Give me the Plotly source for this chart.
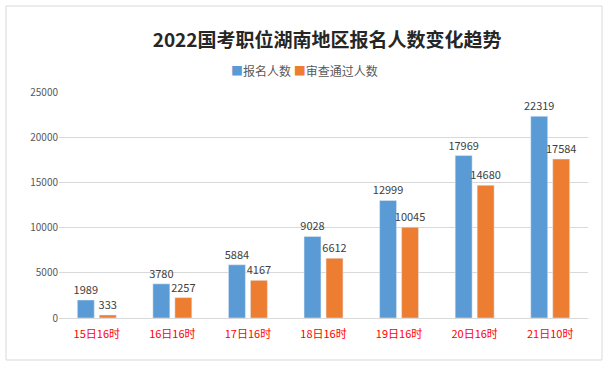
import plotly.graph_objects as go

categories = ["15日16时", "16日16时", "17日16时", "18日16时", "19日16时", "20日16时", "21日10时"]
applicants = [1989, 3780, 5884, 9028, 12999, 17969, 22319]
approved = [333, 2257, 4167, 6612, 10045, 14680, 17584]
y_ticks = [0, 5000, 10000, 15000, 20000, 25000]
series_names = ["报名人数", "审查通过人数"]
series_colors = ["#5B9BD5", "#ED7D31"]

font_cjk = "Noto Sans CJK SC, Microsoft YaHei, sans-serif"

fig = go.Figure()
for name, vals, col in zip(series_names, [applicants, approved], series_colors):
    fig.add_trace(go.Bar(name=name, x=categories, y=vals, marker_color=col,
                         text=vals, textposition="outside", cliponaxis=False,
                         constraintext="none",
                         textfont=dict(size=11, color="#404040", family=font_cjk)))

fig.update_layout(
    width=608, height=369,
    margin=dict(l=59, r=20, t=92, b=51),
    paper_bgcolor="white", plot_bgcolor="white",
    barmode="group", bargap=0.418, bargroupgap=0.23,
    title=dict(text="<b>2022国考职位湖南地区报名人数变化趋势</b>", xref="container",
               x=0.538, xanchor="center", yref="container", y=0.892, yanchor="middle",
               font=dict(size=19, color="#262626", family=font_cjk)),
    showlegend=False,
    font=dict(family=font_cjk),
)
# legend drawn as text with coloured squares
legend_text = ("<span style='color:%s'>■</span>%s <span style='color:%s'>■</span>%s"
               % (series_colors[0], series_names[0], series_colors[1], series_names[1]))
fig.add_annotation(text=legend_text, xref="paper", yref="paper", x=0.465, y=1.093,
                   xanchor="center", yanchor="middle", showarrow=False,
                   font=dict(size=12, color="#595959", family=font_cjk))
fig.update_xaxes(tickfont=dict(size=11, color="#FF0000", family=font_cjk), showline=True,
                 linecolor="#d9d9d9", linewidth=1, ticks="", showgrid=False,
                 ticklabelstandoff=6)
fig.update_yaxes(range=[0, 25000], tickvals=y_ticks, ticktext=[str(v) for v in y_ticks],
                 tickfont=dict(size=10, color="#595959", family=font_cjk),
                 gridcolor="#d9d9d9", gridwidth=1, zeroline=False, ticks="", ticklen=0)
fig.add_shape(type="rect", xref="paper", yref="paper",
              x0=-0.1002, x1=1.0265, y0=-0.1858, y1=1.3805,
              line=dict(color="#d9d9d9", width=1), fillcolor="rgba(0,0,0,0)", layer="below")
fig.write_html("out.html")
